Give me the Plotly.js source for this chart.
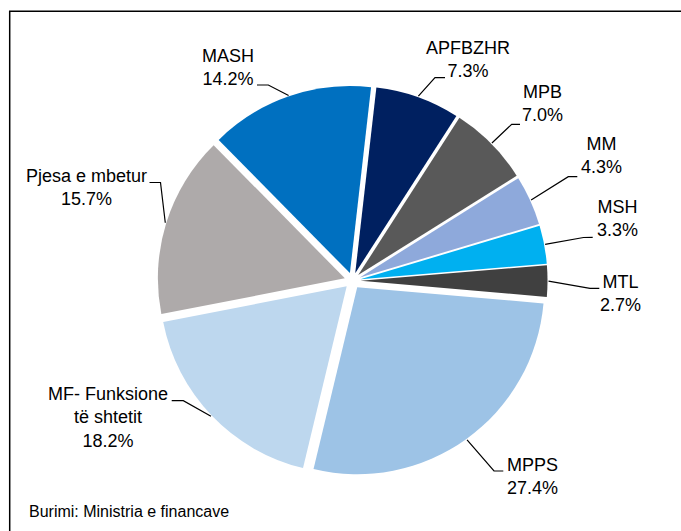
<!DOCTYPE html>
<html>
<head>
<meta charset="utf-8">
<script src="https://cdn.plot.ly/plotly-3.0.1.min.js"></script>
<style>
html,body{margin:0;padding:0;background:#ffffff;}
#chart{width:681px;height:531px;}
</style>
</head>
<body>
<div id="chart"></div>
<script>
// ---- data ----
const categories = ['APFBZHR', 'MPB', 'MM', 'MSH', 'MTL', 'MPPS', 'MF- Funksione<br>të shtetit', 'Pjesa e mbetur', 'MASH'];
const shares = [7.3, 7.0, 4.3, 3.3, 2.7, 27.4, 18.2, 15.7, 14.2];
const sourceNote = 'Burimi: Ministria e financave';

// ---- styles / layout ----
const sliceColors = ['#002060', '#595959', '#8EA9DB', '#00B0F0', '#404040', '#9DC3E6', '#BDD7EE', '#AEAAAA', '#0070C0'];
const W = 681, H = 531;
const ROT = 6.5, PULL = 0.043;
const DOM = {x: [0.2313, 0.8040], y: [0.1041, 0.8386]};
// label block centres, leader elbows and leader ends next to the label (pixels)
const labelPos = [[468, 60], [542, 103.5], [601, 156], [617, 218], [620, 293.4], [532, 476], [108.5, 417], [86, 187], [228, 67.7]];
const leaderElbow = [[435, 77.7], [511.7, 124.3], [568.3, 176.7], [583.5, 237.5], [590, 288.3], [494, 471], [183.3, 400.7], [160.5, 182.5], [268.3, 85]];
const leaderEnd = [[445, 77.7], [520, 124.3], [577.3, 176.7], [592.7, 237.3], [599.3, 288.3], [503.3, 471], [171.7, 400.7], [149.5, 182.5], [257, 85]];
const FONT = 'Arial, "Liberation Sans", sans-serif';

const px = x => x / W;
const py = y => 1 - y / H;

// pie geometry as Plotly computes it
const cx = W * (DOM.x[0] + DOM.x[1]) / 2;
const cy = H * (1 - (DOM.y[0] + DOM.y[1]) / 2);
const half = Math.min(W * (DOM.x[1] - DOM.x[0]), H * (DOM.y[1] - DOM.y[0])) / 2;
const r = half / (1 + PULL);
const total = shares.reduce((a, b) => a + b, 0);

const annotations = [];
const shapes = [];
let cum = 0;
shares.forEach((v, i) => {
  const mid = (ROT + (cum + v / 2) / total * 360) * Math.PI / 180;
  cum += v;
  const rr = r * (1 + PULL) + 1;
  const sx = cx + rr * Math.sin(mid);
  const sy = cy - rr * Math.cos(mid);
  annotations.push({
    xref: 'paper', yref: 'paper',
    x: px(labelPos[i][0]), y: py(labelPos[i][1]),
    xanchor: 'center', yanchor: 'middle', align: 'center',
    text: categories[i] + '<br>' + v.toFixed(1) + '%',
    showarrow: false,
    font: {family: FONT, size: 18, color: '#000000'}
  });
  shapes.push({
    type: 'path', xref: 'paper', yref: 'paper',
    path: 'M ' + px(sx) + ' ' + py(sy) +
          ' L ' + px(leaderElbow[i][0]) + ' ' + py(leaderElbow[i][1]) +
          ' L ' + px(leaderEnd[i][0]) + ' ' + py(leaderEnd[i][1]),
    line: {color: '#000000', width: 1.2}
  });
});

annotations.push({
  xref: 'paper', yref: 'paper', x: px(27), y: py(511),
  xanchor: 'left', yanchor: 'middle', text: sourceNote, showarrow: false,
  font: {family: FONT, size: 16, color: '#000000'}
});

// chart frame (left and top edges)
shapes.push({
  type: 'path', xref: 'paper', yref: 'paper',
  path: 'M ' + px(9.7) + ' 0 L ' + px(9.7) + ' ' + py(11.3) + ' L 1 ' + py(11.3),
  line: {color: '#000000', width: 1.5}
});

const trace = {
  type: 'pie',
  labels: categories,
  values: shares,
  sort: false,
  direction: 'clockwise',
  rotation: ROT,
  pull: PULL,
  textinfo: 'none',
  hoverinfo: 'label+percent',
  marker: {colors: sliceColors, line: {width: 0}},
  domain: DOM,
  showlegend: false
};

const layout = {
  width: W, height: H,
  margin: {l: 0, r: 0, t: 0, b: 0},
  paper_bgcolor: '#ffffff',
  showlegend: false,
  annotations: annotations,
  shapes: shapes
};

Plotly.newPlot('chart', [trace], layout, {displayModeBar: false, staticPlot: true});
</script>
</body>
</html>
